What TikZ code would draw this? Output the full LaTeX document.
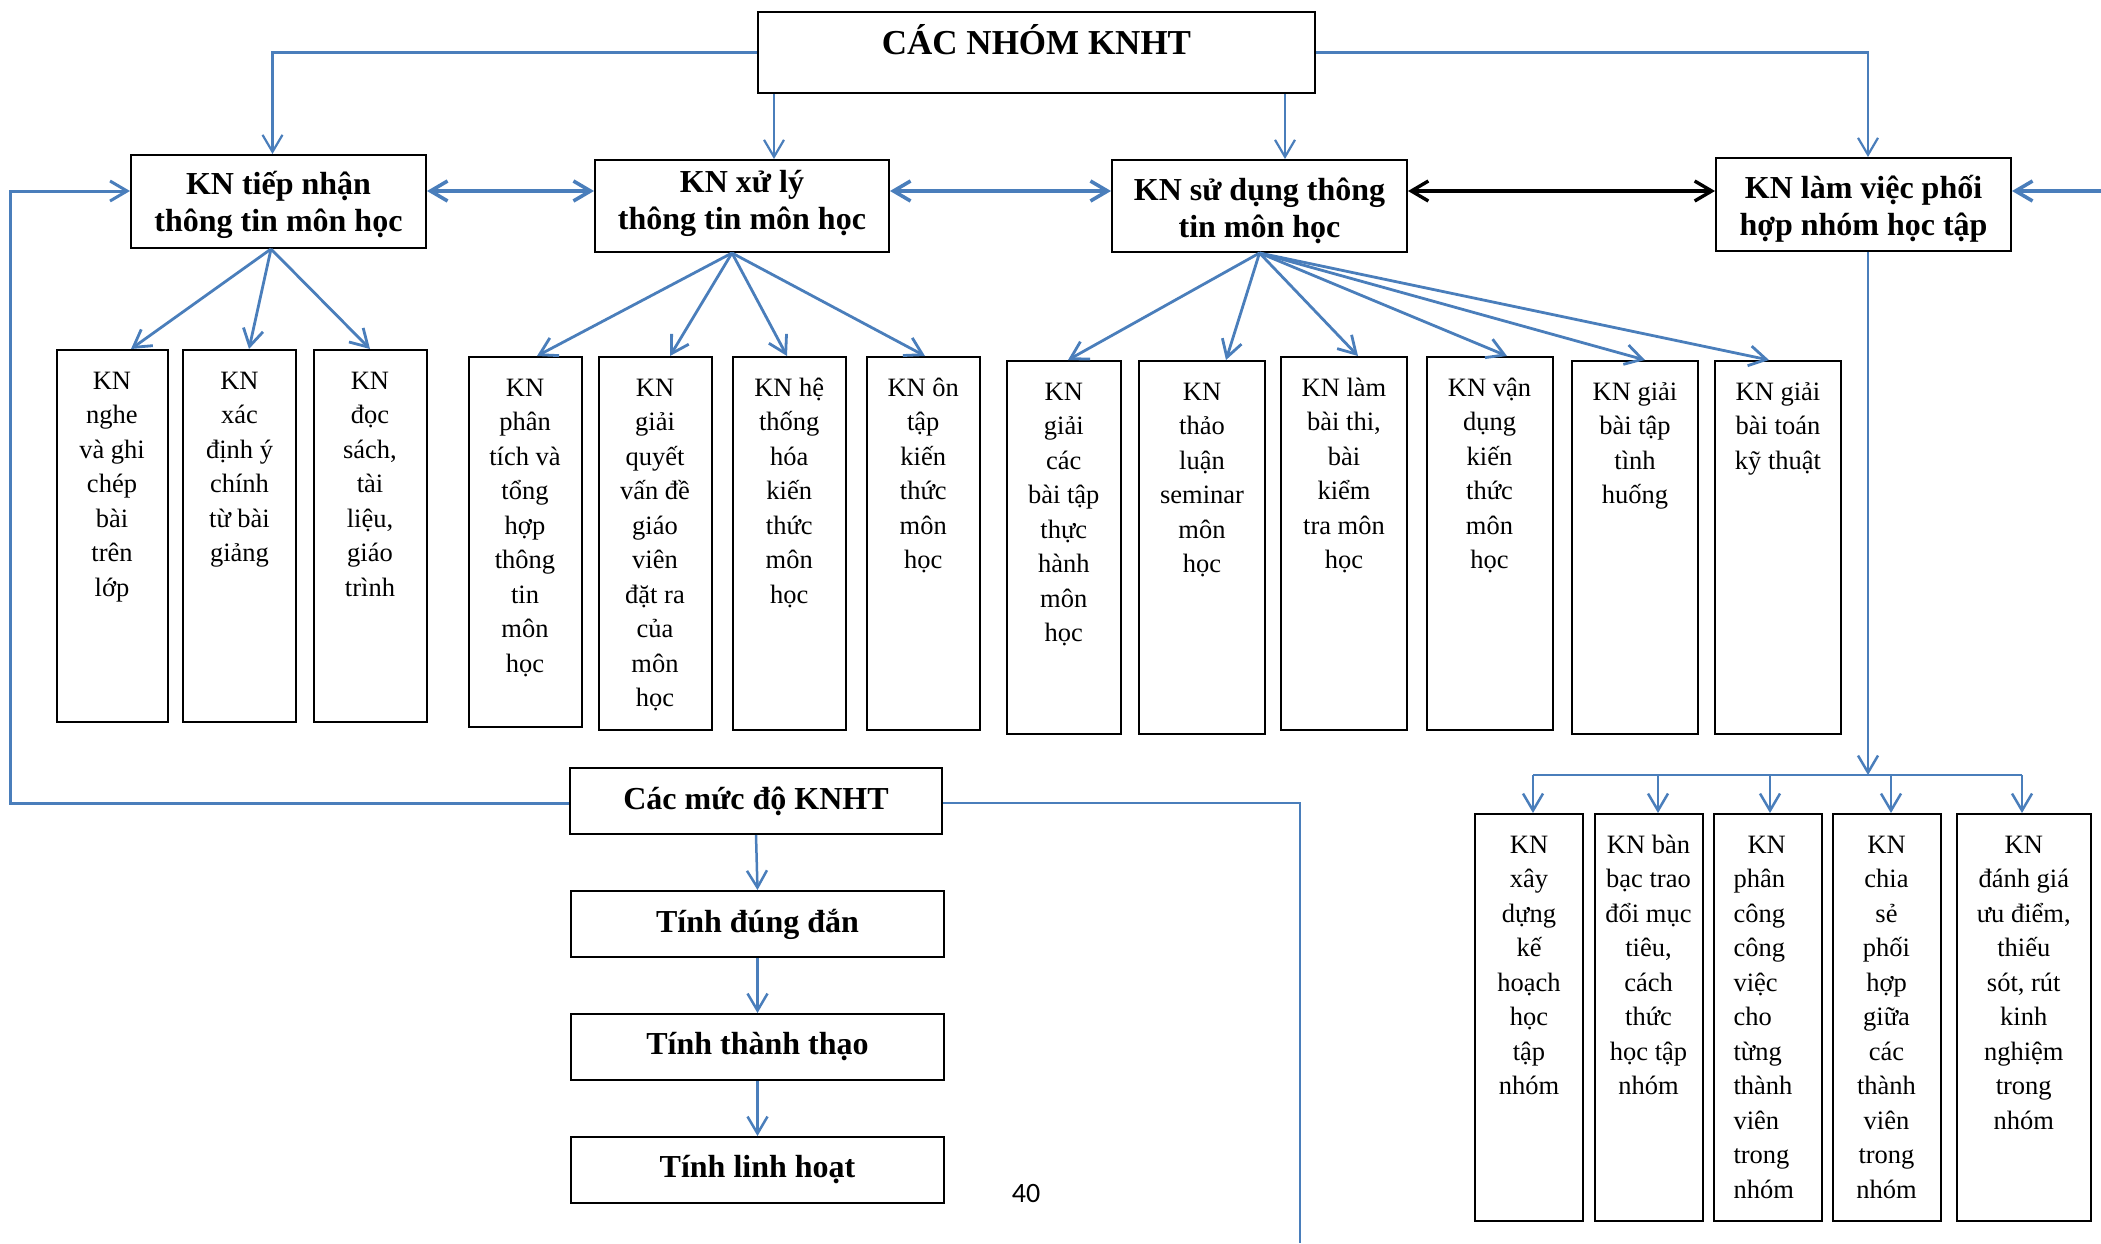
\documentclass[tikz,border=0pt]{standalone}
\usepackage{fontspec}
\setmainfont{Liberation Serif}
\newfontfamily\pagenofont{Carlito}
\usetikzlibrary{arrows.meta}
\definecolor{linkblue}{RGB}{74,126,187}
% column text, top aligned: [top gap]{width}{height}{lines}
\newcommand{\colbox}[4][12.5pt]{\parbox[c][#3][t]{#2}{\centering\vspace*{#1}\rule{0pt}{1em}#4}}
\newcommand{\colboxl}[4][12.5pt]{\parbox[c][#3][t]{#2}{\raggedright\leftskip=20pt\vspace*{#1}\rule{0pt}{1em}#4}}

\begin{document}
\begin{tikzpicture}[x=1pt,y=-1pt,
  >={Straight Barb[length=17pt,width=20pt]},
  colnode/.style={draw,line width=2pt,inner sep=0pt,anchor=north west,font=\fontsize{26.5}{34.5}\selectfont},
  titlebox/.style={draw,line width=2pt,inner sep=0pt,anchor=north west,font=\fontsize{35}{40}\selectfont\bfseries},
  headbox/.style={draw,line width=2pt,inner sep=0pt,anchor=north west,font=\fontsize{32}{37}\selectfont\bfseries},
  tierbox/.style={draw,line width=2pt,minimum width=373pt,minimum height=66pt,font=\fontsize{32}{37}\selectfont\bfseries},
  conn/.style={linkblue,line width=2.5pt},
  dbl/.style={conn,line width=3.6pt,<->}]
  \useasboundingbox (0,0) rectangle (2101,1243);

  % title and the four groups
  \node[titlebox] (top) at (757,11) {\colbox[7pt]{557pt}{81pt}{CÁC NHÓM KNHT}};
  \node[headbox] (A) at (130,154) {\colbox[7pt]{295pt}{93pt}{KN tiếp nhận\\thông tin môn học}};
  \node[headbox] (B) at (594,159) {\colbox[0pt]{294pt}{92pt}{KN xử lý\\thông tin môn học}};
  \node[headbox] (C) at (1111,159) {\colbox[8pt]{295pt}{92pt}{KN sử dụng thông\\tin môn học}};
  \node[headbox] (D) at (1715,157) {\colbox[8pt]{295pt}{93pt}{KN làm việc phối\\hợp nhóm học tập}};

  % skills under A
  \node[colnode] (a1) at (55.5,349) {\colbox{111pt}{372pt}{KN\\nghe\\và ghi\\chép\\bài\\trên\\lớp}};
  \node[colnode] (a2) at (182,349) {\colbox{113pt}{372pt}{KN\\xác\\định ý\\chính\\từ bài\\giảng}};
  \node[colnode] (a3) at (312.5,349) {\colbox{113pt}{372pt}{KN\\đọc\\sách,\\tài\\liệu,\\giáo\\trình}};
  % skills under B
  \node[colnode] (b1) at (467.5,356) {\colbox{113pt}{370pt}{KN\\phân\\tích và\\tổng\\hợp\\thông\\tin\\môn\\học}};
  \node[colnode] (b2) at (597.5,356) {\colbox{113pt}{373pt}{KN\\giải\\quyết\\vấn đề\\giáo\\viên\\đặt ra\\của\\môn\\học}};
  \node[colnode] (b3) at (731.5,356) {\colbox{113.5pt}{373pt}{KN hệ\\thống\\hóa\\kiến\\thức\\môn\\học}};
  \node[colnode] (b4) at (865.5,356) {\colbox{113.5pt}{373pt}{KN ôn\\tập\\kiến\\thức\\môn\\học}};
  % skills under C
  \node[colnode] (c1) at (1006,360) {\colbox{113.5pt}{373pt}{KN\\giải\\các\\bài tập\\thực\\hành\\môn\\học}};
  \node[colnode] (c2) at (1138,360) {\colbox{126pt}{373pt}{KN\\thảo\\luận\\seminar\\môn\\học}};
  \node[colnode] (c3) at (1280,356) {\colbox{126pt}{373pt}{KN làm\\bài thi,\\bài\\kiểm\\tra môn\\học}};
  \node[colnode] (c4) at (1425.5,356) {\colbox{126pt}{373pt}{KN vận\\dụng\\kiến\\thức\\môn\\học}};
  \node[colnode] (c5) at (1571,360) {\colbox{126pt}{373pt}{KN giải\\bài tập\\tình\\huống}};
  \node[colnode] (c6) at (1714,360) {\colbox{126pt}{373pt}{KN giải\\bài toán\\kỹ thuật}};
  % skills under D
  \node[colnode] (d1) at (1474,813) {\colbox{108pt}{407pt}{KN\\xây\\dựng\\kế\\hoạch\\học\\tập\\nhóm}};
  \node[colnode] (d2) at (1593.5,813) {\colbox{108pt}{407pt}{KN bàn\\bạc trao\\đổi mục\\tiêu,\\cách\\thức\\học tập\\nhóm}};
  \node[colnode] (d3) at (1712.5,813) {\colboxl{108pt}{407pt}{\hspace*{14pt}KN\\phân\\công\\công\\việc\\cho\\từng\\thành\\viên\\trong\\nhóm}};
  \node[colnode] (d4) at (1831.5,813) {\colbox{108pt}{407pt}{KN\\chia\\sẻ\\phối\\hợp\\giữa\\các\\thành\\viên\\trong\\nhóm}};
  \node[colnode] (d5) at (1955.5,813) {\colbox{134.5pt}{407pt}{KN\\đánh giá\\ưu điểm,\\thiếu\\sót, rút\\kinh\\nghiệm\\trong\\nhóm}};

  % levels
  \node[tierbox,minimum width=372pt] (muc) at (756,801) {Các mức độ KNHT};
  \node[tierbox] (dung) at (757.5,924) {Tính đúng đắn};
  \node[tierbox] (thao) at (757.5,1047) {Tính thành thạo};
  \node[tierbox] (linh) at (757.5,1170) {Tính linh hoạt};
  \node[font=\pagenofont\fontsize{28}{34}\selectfont] (pageno) at (1026,1193) {40};

  \coordinate (row) at (0,191);
  \coordinate (ledge) at (10,191);
  \coordinate (redge) at (2101,191);
  \coordinate (bedge) at (1300,1243);
  \coordinate (bus) at (0,775);

  % title to groups
  \draw[conn,line width=2.2pt,->] (top.west) -| ([xshift=-6pt]A.north);
  \draw[conn,line width=2.2pt,->] (top.east) -| ([xshift=4.5pt]D.north);
  \draw[conn,line width=2.2pt,->] (top.south -| 774,0) -- (B.north -| 774,0);
  \draw[conn,line width=2.2pt,->] (top.south -| 1285,0) -- (C.north -| 1285,0);

  % links between groups
  \draw[dbl] (A.east |- row) -- (B.west |- row);
  \draw[dbl] (B.east |- row) -- (C.west |- row);
  \draw[dbl,black,line width=3.4pt] (C.east |- row) -- (D.west |- row);
  \draw[conn,line width=3.6pt,->] (redge) -- (D.east |- row);
  \draw[conn,line width=3pt,->] (muc.west |- 0,803) -| (ledge) -- (A.west |- row);
  \draw[conn,line width=2.6pt] (muc.east |- 0,803) -| (bedge);

  % groups to skills
  \foreach \n/\x in {a1/131,a2/249,a3/370}
    \draw[conn,line width=2.8pt,->] ([xshift=-7.5pt]A.south) -- (\n.north -| \x,0);
  \foreach \n/\x in {b1/537,b2/670,b3/787,b4/925}
    \draw[conn,line width=2.8pt,->] ([xshift=-10pt]B.south) -- (\n.north -| \x,0);
  \foreach \n/\x in {c1/1068,c2/1226,c3/1358,c4/1507,c5/1645,c6/1769}
    \draw[conn,line width=2.8pt,->] (C.south) -- (\n.north -| \x,0);
  \draw[conn,->] ([xshift=4.5pt]D.south) -- ([xshift=4.5pt]D.south |- bus);
  \draw[conn] (bus -| 1533,0) -- (bus -| 2022,0);
  \foreach \n/\x in {d1/1533,d2/1658,d3/1770,d4/1891,d5/2022}
    \draw[conn,->] (bus -| \x,0) -- (\n.north -| \x,0);

  % levels chain
  \draw[conn,->] (muc.south) -- (dung.north);
  \draw[conn,->] (dung.south) -- (thao.north);
  \draw[conn,->] (thao.south) -- (linh.north);
\end{tikzpicture}
\end{document}
